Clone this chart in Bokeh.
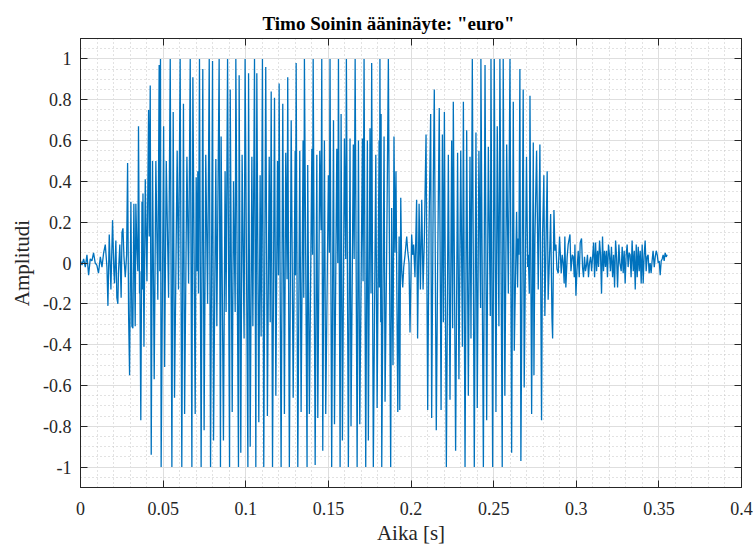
from bokeh.plotting import figure
from bokeh.models import Range1d, SingleIntervalTicker, LinearAxis, CustomJSTickFormatter, ColumnDataSource
from bokeh.embed import file_html
from bokeh.resources import INLINE

# Data: (time [s], amplitude) per phase of the utterance
alku = [(0.0000, 0.01), (0.0009, -0.01), (0.0019, 0.02), (0.0029, -0.02), (0.0039, 0.04), (0.0049, -0.06),
        (0.0059, 0.02), (0.0069, 0.01), (0.0079, 0.05), (0.0089, 0.0), (0.0099, -0.01), (0.0109, -0.05),
        (0.0120, 0.03), (0.0130, -0.02), (0.0140, 0.05), (0.0150, 0.09), (0.0160, -0.02), (0.0166, -0.21),
        (0.0174, 0.14), (0.0184, -0.13), (0.0194, 0.21), (0.0202, -0.04), (0.0206, -0.10), (0.0214, 0.11),
        (0.0220, -0.17), (0.0226, -0.20), (0.0230, -0.04), (0.0238, 0.09), (0.0246, -0.17), (0.0251, 0.15),
        (0.0257, 0.17), (0.0263, 0.03), (0.0271, -0.07), (0.0279, 0.04), (0.0285, 0.49), (0.0291, -0.25),
        (0.0297, -0.55), (0.0305, 0.30), (0.0311, -0.31), (0.0317, -0.32), (0.0323, 0.29), (0.0331, -0.31),
        (0.0335, 0.29), (0.0341, 0.08), (0.0347, -0.04)]

eu_1 = [(0.0351, 0.67), (0.0357, -0.15), (0.0359, -0.04), (0.0365, -0.77), (0.0372, 0.30), (0.0376, -0.13),
        (0.0378, 0.34), (0.0384, -0.41), (0.0392, 0.41), (0.0402, -0.09), (0.0412, 0.75), (0.0416, 0.13),
        (0.0422, 0.87), (0.0428, -0.94), (0.0436, 0.50), (0.0446, -0.57), (0.0456, 0.50), (0.0468, -0.18),
        (0.0476, 0.97), (0.0480, -0.04), (0.0484, 1.0), (0.0488, -1.0), (0.0503, 0.67), (0.0509, -0.51),
        (0.0519, 0.50), (0.0533, -0.17), (0.0543, 1.0), (0.0553, -1.0), (0.0561, 0.74), (0.0569, -0.66),
        (0.0585, 0.55), (0.0593, -0.13), (0.0603, 1.0), (0.0613, -1.0), (0.0623, 0.78), (0.0630, -0.74),
        (0.0644, 0.52), (0.0654, -0.10), (0.0664, 1.0), (0.0674, -1.0), (0.0680, 0.91), (0.0694, -0.74),
        (0.0700, 0.42), (0.0706, -0.04), (0.0710, 0.45), (0.0714, -0.15), (0.0720, 1.0)]

eu_2 = [(0.0730, -1.0), (0.0740, 0.95), (0.0748, -0.82), (0.0758, 0.53), (0.0769, -0.20), (0.0779, 1.0),
        (0.0787, -1.0), (0.0799, 0.99), (0.0805, -0.87), (0.0819, 0.51), (0.0825, -0.31), (0.0839, 1.0),
        (0.0847, -1.0), (0.0851, 0.62), (0.0865, -0.87), (0.0875, 0.45), (0.0881, -0.24), (0.0890, 1.0),
        (0.0902, -1.0), (0.0906, 0.85), (0.0918, -0.73), (0.0926, 0.40), (0.0936, -0.24), (0.0940, 1.0),
        (0.0956, -1.0), (0.0960, 0.92), (0.0970, -0.93), (0.0978, 0.53), (0.0990, -0.37), (0.0996, 1.0),
        (0.1013, -1.0), (0.1017, 0.93), (0.1027, -0.90), (0.1037, 0.52), (0.1043, -0.31), (0.1053, 1.0),
        (0.1061, -1.0), (0.1067, 0.93), (0.1079, -0.78), (0.1087, 0.43)]

eu_3 = [(0.1093, -0.36), (0.1101, 1.0), (0.1109, -1.0), (0.1121, 0.96), (0.1131, -0.75), (0.1142, 0.52),
        (0.1148, -0.29), (0.1154, 0.84), (0.1162, -1.0), (0.1174, 0.81), (0.1182, -0.65), (0.1192, 0.50),
        (0.1198, -0.06), (0.1202, 0.88), (0.1214, -1.0), (0.1224, 0.78), (0.1234, -0.74), (0.1242, 0.54),
        (0.1250, -0.08), (0.1254, 0.91), (0.1264, -1.0), (0.1275, 0.70), (0.1287, -0.66), (0.1299, 0.55),
        (0.1301, -0.06), (0.1305, 0.98), (0.1315, -1.0), (0.1327, 0.55), (0.1335, -0.73), (0.1347, 0.60),
        (0.1351, -0.17), (0.1355, 1.0), (0.1371, -1.0), (0.1375, 0.48), (0.1385, -0.74), (0.1400, 0.56),
        (0.1404, 0.04), (0.1408, 1.0), (0.1420, -0.99), (0.1430, 0.53), (0.1436, -0.76), (0.1448, 0.55)]

eu_4 = [(0.1456, 0.16), (0.1460, 1.0), (0.1466, -0.92), (0.1476, 0.60), (0.1484, -0.74), (0.1500, 0.43),
        (0.1506, 0.05), (0.1510, 1.0), (0.1520, -1.0), (0.1531, 0.70), (0.1537, -0.79), (0.1551, 0.56),
        (0.1557, 0.0), (0.1561, 1.0), (0.1571, -1.0), (0.1577, 0.73), (0.1585, -0.87), (0.1597, 0.61),
        (0.1605, 0.02), (0.1609, 1.0), (0.1621, -1.0), (0.1631, 0.61), (0.1637, -0.80), (0.1651, 0.58),
        (0.1656, 0.02), (0.1662, 1.0), (0.1674, -1.0), (0.1682, 0.60), (0.1690, -0.79), (0.1706, 0.61),
        (0.1710, -0.09), (0.1716, 1.0), (0.1726, -1.0), (0.1736, 0.60), (0.1742, -0.87), (0.1752, 0.66),
        (0.1758, -0.15), (0.1762, 0.98), (0.1772, -1.0), (0.1787, 0.53), (0.1795, -0.71), (0.1807, 0.60)]

siirtyma = [(0.1809, -0.12), (0.1812, 1.0), (0.1817, -0.29), (0.1819, 0.73), (0.1823, -1.0), (0.1837, 0.62),
            (0.1843, -0.68), (0.1853, 0.06), (0.1863, 1.0), (0.1877, -1.0), (0.1883, 0.27), (0.1891, -0.50),
            (0.1897, 0.62), (0.1903, 0.05), (0.1909, 0.45), (0.1920, -0.73), (0.1928, 0.13), (0.1932, -0.72),
            (0.1938, 0.32), (0.1944, -0.04), (0.1950, -0.12), (0.1956, -0.02), (0.1964, 0.04), (0.1974, 0.13),
            (0.1980, 0.06), (0.1988, 0.0), (0.1994, -0.34), (0.2004, 0.14), (0.2010, 0.04), (0.2016, 0.09),
            (0.2024, -0.07), (0.2034, 0.31), (0.2040, -0.37), (0.2049, 0.29), (0.2057, -0.13), (0.2065, 0.31),
            (0.2073, -0.13), (0.2081, 0.13), (0.2091, 0.63), (0.2101, -0.72), (0.2109, 0.16), (0.2119, 0.73),
            (0.2125, -0.76), (0.2135, 0.40), (0.2141, 0.85), (0.2153, -0.82), (0.2161, -0.04), (0.2171, 0.76)]

ro_1 = [(0.2182, -0.72), (0.2190, 0.63), (0.2196, -0.29), (0.2202, 0.74), (0.2214, -1.0), (0.2226, 0.53),
        (0.2236, -0.67), (0.2246, 0.60), (0.2252, -0.32), (0.2256, 0.79), (0.2270, -0.92), (0.2282, 0.54),
        (0.2290, -0.57), (0.2301, 0.55), (0.2311, -0.41), (0.2317, 0.79), (0.2327, -1.0), (0.2337, 0.65),
        (0.2347, -0.65), (0.2357, 0.52), (0.2363, -0.37), (0.2371, 1.0), (0.2383, -1.0), (0.2393, 0.64),
        (0.2401, -0.71), (0.2411, 0.55), (0.2421, -0.22), (0.2423, 1.0), (0.2438, -1.0), (0.2448, 0.97),
        (0.2458, -0.77), (0.2468, 0.57), (0.2480, -0.26), (0.2484, 1.0), (0.2494, -1.0), (0.2504, 1.0),
        (0.2514, -0.73), (0.2522, 0.67), (0.2532, -0.31)]

ro_2 = [(0.2538, 1.0), (0.2552, -1.0), (0.2558, 1.0), (0.2568, -0.65), (0.2579, 0.58), (0.2589, -0.15),
        (0.2599, 1.0), (0.2609, -0.93), (0.2619, 0.79), (0.2625, -0.43), (0.2639, 0.25), (0.2645, -0.12),
        (0.2649, 0.12), (0.2653, 0.04), (0.2659, 0.95), (0.2665, -0.97), (0.2679, 0.85), (0.2685, -0.61),
        (0.2699, 0.52), (0.2706, -0.02), (0.2710, 0.04), (0.2716, -0.15), (0.2720, 0.82), (0.2730, -0.74),
        (0.2740, 0.59), (0.2744, -0.55), (0.2750, 0.13), (0.2760, 0.55), (0.2770, -0.13), (0.2780, 0.58),
        (0.2790, -0.77), (0.2796, 0.13), (0.2804, 0.43), (0.2810, -0.26), (0.2824, 0.45), (0.2830, -0.18),
        (0.2840, 0.08), (0.2845, 0.24), (0.2853, -0.27), (0.2857, -0.37), (0.2865, 0.26), (0.2871, 0.06),
        (0.2877, 0.09), (0.2883, -0.03), (0.2891, -0.05), (0.2899, 0.13)]

loppu_1 = [(0.2909, -0.05), (0.2915, 0.04), (0.2921, 0.0), (0.2927, -0.10), (0.2931, 0.13), (0.2937, -0.12),
           (0.2945, 0.03), (0.2951, 0.09), (0.2962, 0.14), (0.2968, -0.04), (0.2976, 0.04), (0.2982, 0.03),
           (0.2988, -0.07), (0.2992, 0.09), (0.2998, -0.16), (0.3004, -0.04), (0.3012, 0.06), (0.3018, -0.07),
           (0.3024, 0.10), (0.3032, 0.12), (0.3038, -0.02), (0.3044, -0.07), (0.3050, 0.03), (0.3056, -0.04),
           (0.3062, -0.01), (0.3068, 0.04), (0.3074, -0.07), (0.3080, 0.0), (0.3087, 0.03), (0.3093, -0.04),
           (0.3099, 0.03), (0.3105, 0.10), (0.3111, -0.07), (0.3117, 0.10), (0.3123, -0.04), (0.3129, 0.06),
           (0.3135, -0.02), (0.3141, 0.11), (0.3147, 0.04), (0.3153, -0.15), (0.3159, 0.13), (0.3165, -0.04),
           (0.3171, 0.06), (0.3177, -0.02), (0.3183, 0.06), (0.3189, -0.07), (0.3195, 0.09), (0.3201, 0.04),
           (0.3207, -0.04), (0.3213, 0.08), (0.3220, -0.07), (0.3226, 0.04), (0.3232, -0.12), (0.3238, 0.11),
           (0.3244, 0.03), (0.3250, -0.12), (0.3258, 0.09), (0.3264, 0.0)]

loppu_2 = [(0.3272, -0.04), (0.3278, 0.08), (0.3284, -0.05), (0.3290, 0.06), (0.3296, -0.10), (0.3302, 0.04),
           (0.3308, 0.09), (0.3314, -0.02), (0.3320, 0.05), (0.3326, 0.04), (0.3332, -0.07), (0.3338, 0.11),
           (0.3345, -0.04), (0.3351, 0.06), (0.3357, -0.13), (0.3363, 0.09), (0.3369, -0.07), (0.3375, 0.08),
           (0.3381, -0.04), (0.3387, 0.06), (0.3393, -0.10), (0.3399, 0.09), (0.3405, -0.10), (0.3411, 0.04),
           (0.3417, 0.11), (0.3423, -0.04), (0.3429, 0.03), (0.3435, 0.04), (0.3441, -0.05), (0.3447, 0.0),
           (0.3453, -0.05), (0.3459, 0.01), (0.3465, 0.06), (0.3472, -0.02), (0.3478, 0.03), (0.3484, 0.06),
           (0.3490, 0.04), (0.3496, 0.0), (0.3502, 0.01), (0.3508, -0.06), (0.3514, 0.01), (0.3520, 0.02),
           (0.3526, 0.04), (0.3532, 0.01), (0.3538, 0.05), (0.3544, 0.03), (0.3550, 0.04)]

x_ticks_step = 0.05
y_ticks_step = 0.2
title_text = 'Timo Soinin ääninäyte: "euro"'
x_label = "Aika [s]"
y_label = "Amplitudi"

segments = [alku, eu_1, eu_2, eu_3, eu_4, siirtyma, ro_1, ro_2, loppu_1, loppu_2]
pairs = [pt for seg in segments for pt in seg]
src = ColumnDataSource(data=dict(t=[q[0] for q in pairs], a=[q[1] for q in pairs]))

FONT = "Liberation Serif"
DARK = "#262626"

p = figure(width=756, height=547, output_backend="svg", toolbar_location=None,
           x_range=Range1d(0, 0.4), y_range=Range1d(-1.1, 1.1),
           min_border_left=80, min_border_right=15, min_border_top=38, min_border_bottom=59,
           background_fill_color="white", border_fill_color="white")

p.title.text = title_text
p.title.align = "left"
p.title.offset = 182
p.title.text_font = FONT
p.title.text_font_size = "19px"
p.title.text_font_style = "bold"
p.title.text_color = "black"
p.title.standoff = 2

xt = SingleIntervalTicker(interval=x_ticks_step, num_minor_ticks=5)
yt = SingleIntervalTicker(interval=y_ticks_step, num_minor_ticks=4)
fmt = CustomJSTickFormatter(code="return Number(tick.toFixed(4)).toString();")
blank = CustomJSTickFormatter(code="return '';")

def style_axis(ax):
    ax.axis_line_color = DARK
    ax.axis_line_width = 1
    ax.major_tick_line_color = DARK
    ax.major_tick_in = 7
    ax.major_tick_out = 0
    ax.minor_tick_line_color = None
    ax.major_label_text_font = FONT
    ax.major_label_text_font_size = "18px"
    ax.major_label_text_color = DARK
    ax.axis_label_text_font = FONT
    ax.axis_label_text_font_size = "21px"
    ax.axis_label_text_font_style = "normal"
    ax.axis_label_text_color = DARK

xa = p.xaxis[0]
ya = p.yaxis[0]
xa.ticker = xt
ya.ticker = yt
xa.formatter = fmt
ya.formatter = fmt
style_axis(xa)
style_axis(ya)
xa.axis_label = x_label
ya.axis_label = y_label
xa.major_label_standoff = 10
xa.axis_label_standoff = 3
ya.major_label_standoff = 5
ya.axis_label_standoff = 6

top = LinearAxis(ticker=xt, formatter=blank)
right = LinearAxis(ticker=yt, formatter=blank)
for ax in (top, right):
    style_axis(ax)
    ax.major_label_text_font_size = "1px"
    ax.major_label_standoff = 0
p.add_layout(top, "above")
p.add_layout(right, "right")

for g, tk in ((p.xgrid[0], xt), (p.ygrid[0], yt)):
    g.ticker = tk
    g.grid_line_color = "#dedede"
    g.grid_line_width = 1
    g.minor_grid_line_color = "#c4c4c4"
    g.minor_grid_line_dash = "1 3"
    g.minor_grid_line_width = 1

p.outline_line_color = DARK
p.outline_line_width = 1

p.line("t", "a", source=src, color="#0072BD", line_width=1.3)

open("out.html", "w").write(file_html(p, INLINE))
